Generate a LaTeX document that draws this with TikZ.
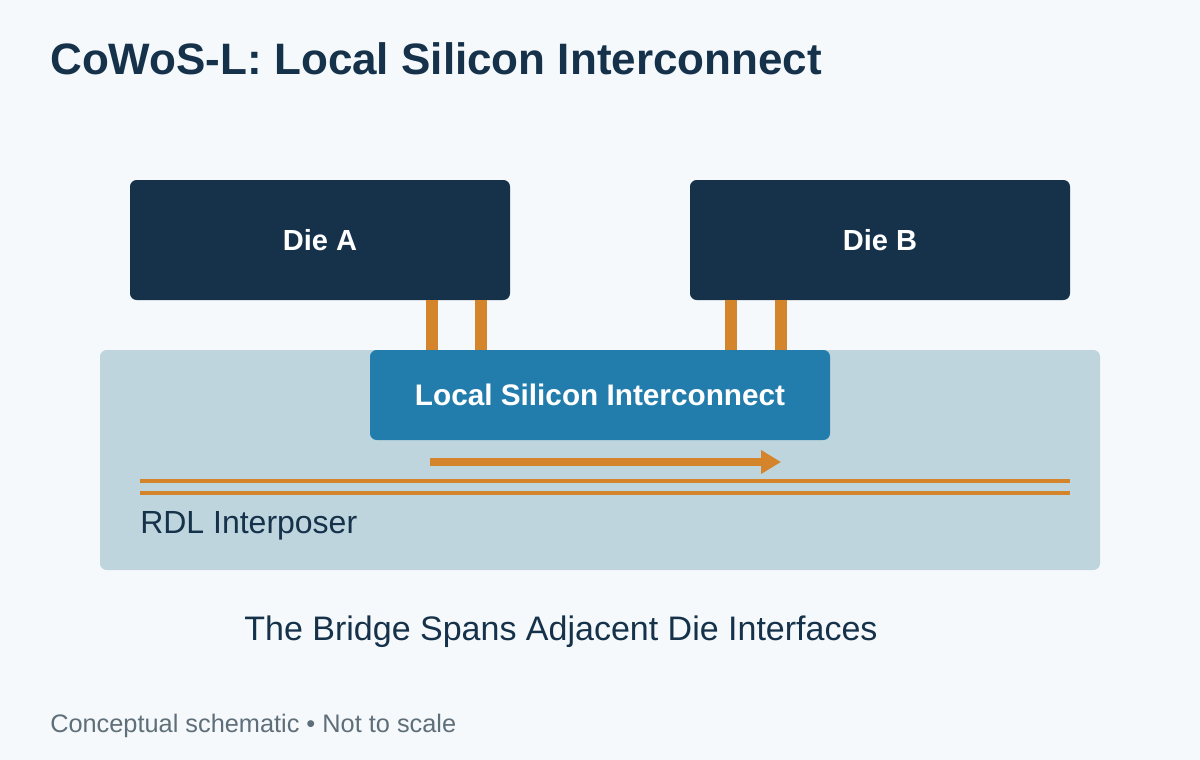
\documentclass[tikz,border=0pt]{standalone}
\usepackage{fontspec}
\setmainfont{Liberation Sans}
\usetikzlibrary{arrows.meta}
\definecolor{bgc}{HTML}{F5F9FC}
\definecolor{navy}{HTML}{15324A}
\definecolor{rdl}{HTML}{BED5DE}
\definecolor{lsi}{HTML}{237DAC}
\definecolor{bump}{HTML}{D4842A}
\definecolor{note}{HTML}{5F6F7A}
\tikzset{
  die/.style={fill=navy,rounded corners=5pt,text=white,font=\fontsize{21.8}{26}\selectfont\bfseries},
  bumpsty/.style={fill=bump},
  label/.style={anchor=base west,inner sep=0pt,text=navy}
}
\begin{document}
\begin{tikzpicture}[x=0.75pt,y=-0.75pt]
\fill[bgc] (0,0) rectangle (1200,760);
\useasboundingbox (0,0) rectangle (1200,760);
\node[label,font=\fontsize{33}{38}\selectfont\bfseries] (title) at (50,74) {CoWoS-L: Local Silicon Interconnect};
% interposer
\fill[rdl,rounded corners=5pt] (100,350) rectangle (1100,570);
% dies
\path[die] (130,180) rectangle node (dieA) {Die A} (510,300);
\path[die] (690,180) rectangle node (dieB) {Die B} (1070,300);
% bumps
\foreach \x in {426,475,725,775}
  \fill[bumpsty] (\x,300) rectangle (\x+12,350);
% bridge
\path[die,fill=lsi,font=\fontsize{22.3}{26}\selectfont\bfseries] (370,350) rectangle node (bridge) {Local Silicon Interconnect} (830,440);
\coordinate (arrS) at (430,462);
\coordinate (arrE) at (781,462);
\draw[bump,line width=6pt,-{Triangle[length=15pt,width=17pt]}] (arrS) -- (arrE);
\draw[bump,line width=3.5pt] (140,481) -- (1070,481);
\draw[bump,line width=3.5pt] (140,493) -- (1070,493);
\node[label,font=\fontsize{24}{28}\selectfont] (rdlL) at (140,533) {RDL Interposer};
\node[label,anchor=base,font=\fontsize{25.5}{30}\selectfont] (cap) at (561,640) {The Bridge Spans Adjacent Die Interfaces};
\node[label,text=note,font=\fontsize{19}{23}\selectfont] (foot) at (50,732) {Conceptual schematic • Not to scale};
\end{tikzpicture}
\end{document}
